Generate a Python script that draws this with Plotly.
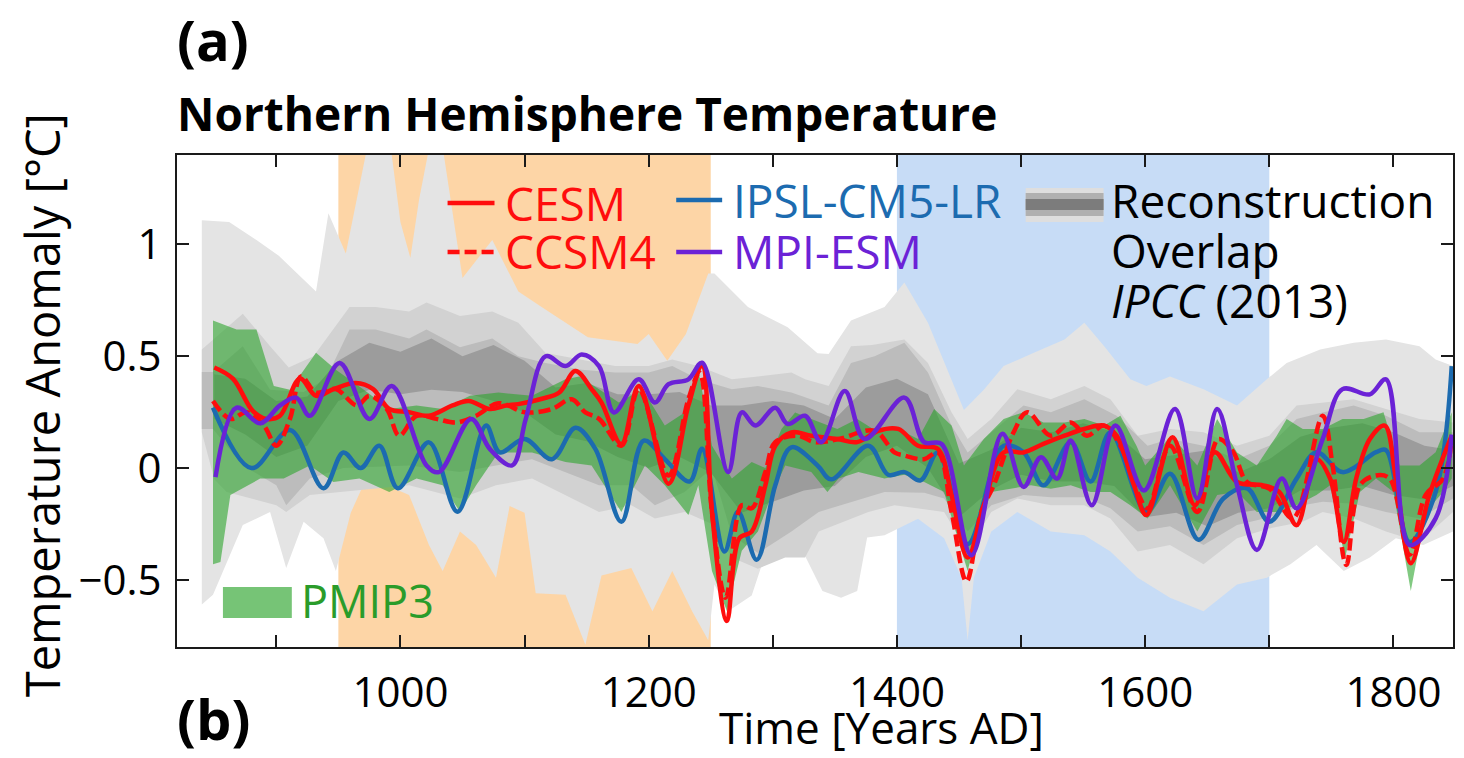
import plotly.graph_objects as go

# ---------------- figure geometry (pixels) ----------------
W, H = 1464, 758
ML, MR, MT, MB = 177, 9, 155, 111
PW, PH = W - ML - MR, H - MT - MB


def xp(px):
    return (px - ML) / PW


def yp(py):
    return (H - MB - py) / PH


FONT = "Open Sans"

# ---------------- climate periods ----------------
mca_period = [950, 1250]
lia_period = [1400, 1700]

# ---------------- model simulations (NH temperature anomaly, degC) ----------------
cesm_year = [850, 865, 881, 892, 903, 919, 932, 946, 964, 978, 991, 1007, 1023, 1042, 1055, 1072, 1085,
             1095, 1114, 1128, 1141, 1154, 1162, 1178, 1192, 1216, 1232, 1243, 1251, 1263, 1273, 1283,
             1294, 1302, 1315, 1331, 1352, 1368, 1385, 1401, 1417, 1433, 1444, 1457, 1470, 1486, 1502,
             1518, 1535, 1551, 1567, 1577, 1591, 1601, 1622, 1640, 1656, 1674, 1695, 1708, 1722, 1738,
             1749, 1760, 1770, 1781, 1793, 1802, 1814, 1829, 1847]
cesm_temp = [0.45, 0.40, 0.256, 0.22, 0.234, 0.40, 0.323, 0.353, 0.38, 0.353, 0.264, 0.25, 0.234, 0.28,
             0.30, 0.264, 0.28, 0.286, 0.31, 0.338, 0.434, 0.353, 0.293, 0.108, 0.367, -0.07, 0.28, 0.456,
             -0.196, -0.684, -0.314, -0.284, -0.077, 0.10, 0.16, 0.145, 0.13, 0.116, 0.167, 0.175, 0.10,
             0.086, -0.12, -0.40, -0.166, 0.07, 0.07, 0.108, 0.145, 0.175, 0.19, 0.145, -0.077, -0.21,
             0.138, -0.166, 0.071, -0.062, -0.077, -0.107, -0.255, 0.04, -0.047, -0.33, -0.047, 0.13,
             0.19, -0.047, -0.425, -0.12, 0.145]

ccsm4_year = [849, 863, 876, 890, 900, 911, 920, 932, 948, 965, 975, 989, 999, 1013, 1029, 1045, 1061,
              1079, 1101, 1122, 1138, 1149, 1160, 1178, 1192, 1216, 1232, 1241, 1251, 1262, 1275, 1283,
              1294, 1302, 1320, 1334, 1353, 1382, 1398, 1406, 1422, 1433, 1444, 1456, 1468, 1478, 1494,
              1505, 1524, 1540, 1553, 1567, 1580, 1594, 1602, 1620, 1642, 1659, 1671, 1682, 1700, 1719,
              1743, 1751, 1762, 1773, 1786, 1797, 1813, 1826, 1840, 1847]
ccsm4_temp = [0.30, 0.22, 0.25, 0.19, 0.10, 0.22, 0.41, 0.338, 0.353, 0.28, 0.323, 0.264, 0.145, 0.234,
              0.22, 0.204, 0.234, 0.29, 0.249, 0.264, 0.308, 0.249, 0.22, 0.10, 0.353, -0.033, 0.308,
              0.427, -0.196, -0.58, -0.166, -0.18, -0.018, 0.116, 0.145, 0.116, 0.13, 0.167, 0.07, 0.056,
              0.04, 0.07, -0.196, -0.507, -0.196, -0.077, 0.16, 0.25, 0.145, 0.204, 0.145, 0.19, 0.10,
              -0.11, -0.18, 0.10, -0.196, 0.13, 0.071, -0.062, -0.092, -0.225, 0.234, 0.012, -0.433,
              -0.077, -0.033, -0.047, -0.388, -0.12, -0.047, 0.13]

ipsl_year = [849, 880, 911, 938, 954, 968, 983, 998, 1023, 1046, 1069, 1080, 1100, 1122, 1141, 1157,
             1178, 1196, 1213, 1233, 1243, 1261, 1272, 1287, 1302, 1315, 1336, 1347, 1377, 1393, 1406,
             1419, 1433, 1457, 1478, 1486, 1502, 1518, 1540, 1556, 1572, 1601, 1620, 1643, 1663, 1682,
             1700, 1722, 1738, 1759, 1786, 1794, 1813, 1834, 1847]
ipsl_temp = [0.27, 0.0, 0.17, -0.09, 0.07, 0.0, 0.10, -0.09, 0.115, -0.195, 0.19, 0.07, 0.13, 0.04, 0.18,
             0.086, -0.24, 0.123, 0.04, -0.06, 0.086, -0.373, -0.195, -0.41, -0.077, 0.093, 0.012, -0.05,
             0.10, -0.03, -0.018, -0.055, 0.07, -0.34, 0.012, 0.10, 0.071, -0.077, 0.115, -0.06, 0.16,
             -0.195, -0.025, -0.32, -0.136, -0.09, -0.24, -0.047, 0.071, -0.018, 0.071, 0.08, -0.33,
             -0.107, 0.456]

mpi_year = [851, 868, 887, 903, 916, 927, 951, 975, 993, 1021, 1031, 1057, 1072, 1090, 1101, 1117, 1133,
            1146, 1160, 1172, 1192, 1205, 1216, 1232, 1243, 1264, 1275, 1286, 1302, 1312, 1326, 1339,
            1358, 1374, 1406, 1422, 1436, 1460, 1485, 1502, 1516, 1529, 1540, 1557, 1576, 1599, 1624,
            1642, 1658, 1674, 1690, 1710, 1722, 1743, 1759, 1781, 1794, 1813, 1834, 1847]
mpi_temp = [-0.04, 0.27, 0.20, 0.28, 0.315, 0.234, 0.47, 0.22, 0.367, 0.012, -0.018, 0.22, 0.086, 0.012,
            0.22, 0.50, 0.456, 0.508, 0.456, 0.249, 0.397, 0.293, 0.375, 0.397, 0.471, -0.018, 0.249,
            0.19, 0.27, 0.197, 0.234, 0.116, 0.345, 0.13, 0.315, 0.116, 0.108, -0.39, 0.153, -0.084,
            0.049, -0.047, 0.123, -0.166, 0.19, -0.10, 0.264, -0.136, 0.264, -0.077, -0.366, -0.047,
            -0.18, 0.13, 0.353, 0.33, 0.397, -0.344, -0.225, 0.15]

# ---------------- PMIP3 ensemble envelope ----------------
pmip_up_year = [849, 868, 884, 898, 911, 932, 948, 970, 991, 1013, 1034, 1056, 1079, 1106, 1133, 1144,
                1160, 1176, 1195, 1213, 1229, 1240, 1251, 1267, 1283, 1294, 1307, 1318, 1331, 1344, 1352,
                1368, 1385, 1401, 1417, 1430, 1444, 1454, 1470, 1486, 1502, 1518, 1535, 1551, 1567, 1580,
                1593, 1600, 1621, 1642, 1658, 1674, 1690, 1706, 1714, 1727, 1743, 1759, 1776, 1792, 1805,
                1821, 1834, 1847]
pmip_up_temp = [0.66, 0.62, 0.62, 0.367, 0.35, 0.516, 0.44, 0.353, 0.264, 0.28, 0.264, 0.323, 0.338,
                0.323, 0.397, 0.41, 0.353, 0.293, 0.353, 0.19, 0.249, 0.44, 0.10, -0.047, 0.027, 0.0,
                0.175, 0.249, 0.22, 0.19, 0.175, 0.22, 0.16, 0.175, 0.13, 0.264, 0.19, 0.012, 0.13, 0.22,
                0.25, 0.204, 0.204, 0.22, 0.19, 0.234, 0.10, 0.012, 0.145, 0.012, 0.22, 0.07, 0.012,
                0.145, 0.22, 0.175, 0.175, 0.22, 0.22, 0.25, 0.012, 0.012, 0.071, 0.25]
pmip_lo_year = [849, 855, 863, 887, 906, 927, 946, 967, 991, 1013, 1034, 1048, 1061, 1079, 1106, 1133,
                1154, 1178, 1197, 1213, 1232, 1240, 1251, 1263, 1275, 1288, 1299, 1310, 1331, 1344, 1353,
                1369, 1390, 1406, 1422, 1438, 1449, 1457, 1465, 1476, 1492, 1508, 1524, 1540, 1556, 1572,
                1588, 1602, 1620, 1642, 1658, 1674, 1690, 1706, 1722, 1738, 1749, 1761, 1773, 1786, 1800,
                1814, 1826, 1840, 1847]
pmip_lo_temp = [-0.43, -0.42, -0.12, -0.047, -0.047, 0.012, -0.062, -0.047, -0.107, -0.047, -0.077,
                -0.196, -0.077, 0.07, 0.07, 0.027, 0.012, -0.196, 0.012, -0.077, -0.21, -0.077, -0.46,
                -0.64, -0.37, -0.284, -0.12, 0.012, -0.018, -0.107, -0.047, -0.018, -0.047, -0.03, -0.062,
                -0.107, -0.314, -0.46, -0.284, -0.107, -0.092, -0.077, -0.092, -0.077, -0.107, -0.107,
                -0.166, -0.225, -0.077, -0.284, -0.12, -0.107, -0.196, -0.196, -0.166, -0.12, -0.077,
                -0.403, -0.107, -0.047, -0.107, -0.55, -0.196, -0.107, -0.047]

# ---------------- reconstruction overlap (IPCC 2013), nested shading levels ----------------
rec1_up_year = [840, 862, 884, 902, 932, 942, 956, 972, 993, 1000, 1008, 1015, 1022, 1035, 1050, 1074,
                1095, 1111, 1151, 1191, 1200, 1215, 1230, 1248, 1253, 1280, 1312, 1336, 1345, 1363, 1390,
                1406, 1425, 1444, 1454, 1470, 1486, 1508, 1535, 1551, 1567, 1588, 1601, 1620, 1647, 1674,
                1698, 1714, 1741, 1768, 1794, 1821, 1834, 1848]
rec1_up_temp = [1.108, 1.10, 1.02, 0.95, 0.79, 1.14, 0.96, 1.40, 1.40, 1.10, 0.94, 1.20, 1.40, 1.40, 0.85,
                1.02, 0.79, 0.73, 0.585, 0.555, 0.60, 0.48, 0.60, 0.87, 0.87, 0.72, 0.63, 0.514, 0.51,
                0.66, 0.72, 0.83, 0.65, 0.397, 0.26, 0.35, 0.456, 0.51, 0.575, 0.65, 0.545, 0.397, 0.367,
                0.41, 0.353, 0.28, 0.397, 0.47, 0.53, 0.56, 0.575, 0.545, 0.486, 0.456]
rec1_lo_year = [840, 849, 873, 895, 908, 922, 938, 948, 960, 970, 990, 1007, 1023, 1034, 1048, 1061, 1077,
                1088, 1100, 1109, 1133, 1149, 1162, 1186, 1203, 1219, 1235, 1248, 1253, 1264, 1283, 1302,
                1315, 1340, 1355, 1368, 1376, 1390, 1398, 1417, 1438, 1452, 1457, 1462, 1476, 1497, 1524,
                1551, 1572, 1594, 1620, 1647, 1674, 1698, 1717, 1738, 1760, 1781, 1802, 1824, 1848]
rec1_lo_temp = [-0.61, -0.566, -0.255, -0.196, -0.447, -0.24, -0.314, -0.46, -0.20, -0.077, -0.08, -0.12,
                -0.344, -0.46, -0.284, -0.344, -0.49, -0.17, -0.20, -0.56, -0.566, -0.79, -0.48, -0.447,
                -0.64, -0.46, -0.64, -0.77, -0.52, -0.64, -0.57, -0.25, -0.27, -0.55, -0.58, -0.55, -0.31,
                -0.30, -0.28, -0.227, -0.314, -0.49, -0.77, -0.49, -0.284, -0.196, -0.284, -0.30, -0.373,
                -0.49, -0.58, -0.64, -0.52, -0.49, -0.43, -0.344, -0.46, -0.40, -0.314, -0.344, -0.284]

rec2_up_year = [840, 873, 895, 910, 930, 959, 980, 1007, 1021, 1048, 1074, 1095, 1117, 1146, 1173, 1200,
                1219, 1240, 1267, 1288, 1315, 1326, 1345, 1363, 1380, 1406, 1425, 1444, 1457, 1476, 1497,
                1524, 1551, 1572, 1594, 1620, 1647, 1674, 1700, 1722, 1743, 1768, 1794, 1821, 1848]
rec2_up_temp = [0.53, 0.69, 0.545, 0.45, 0.50, 0.72, 0.72, 0.70, 0.74, 0.68, 0.70, 0.65, 0.515, 0.486,
                0.456, 0.456, 0.486, 0.456, 0.397, 0.41, 0.427, 0.397, 0.367, 0.545, 0.55, 0.575, 0.47,
                0.25, 0.13, 0.22, 0.353, 0.308, 0.367, 0.308, 0.145, 0.175, 0.16, 0.10, 0.145, 0.28, 0.293,
                0.308, 0.264, 0.22, 0.204]
rec2_lo_year = [840, 850, 860, 900, 908, 927, 954, 1007, 1048, 1077, 1106, 1133, 1160, 1186, 1205, 1229,
                1251, 1267, 1288, 1310, 1326, 1337, 1377, 1398, 1438, 1457, 1476, 1497, 1524, 1551, 1572,
                1594, 1620, 1647, 1674, 1700, 1727, 1743, 1768, 1794, 1821, 1848]
rec2_lo_temp = [0.16, -0.05, -0.107, -0.166, -0.196, -0.12, -0.107, -0.077, -0.136, -0.077, -0.047, -0.12,
                -0.196, -0.166, -0.225, -0.196, -0.25, -0.40, -0.45, -0.40, -0.40, -0.284, -0.196, -0.166,
                -0.196, -0.373, -0.196, -0.136, -0.166, -0.166, -0.225, -0.373, -0.344, -0.43, -0.314,
                -0.27, -0.24, -0.196, -0.225, -0.284, -0.33, -0.196]

rec3_up_year = [840, 849, 873, 895, 922, 940, 959, 980, 1007, 1021, 1048, 1074, 1095, 1117, 1146, 1173,
                1200, 1219, 1240, 1267, 1288, 1315, 1345, 1363, 1382, 1406, 1425, 1444, 1457, 1476, 1502,
                1524, 1551, 1577, 1602, 1620, 1647, 1674, 1700, 1722, 1743, 1768, 1794, 1821, 1848]
rec3_up_temp = [0.43, 0.43, 0.545, 0.35, 0.34, 0.40, 0.62, 0.62, 0.58, 0.62, 0.54, 0.58, 0.50, 0.47,
                0.44, 0.427, 0.427, 0.456, 0.397, 0.353, 0.367, 0.338, 0.28, 0.47, 0.50, 0.56, 0.427, 0.19,
                0.07, 0.16, 0.28, 0.25, 0.308, 0.234, 0.10, 0.13, 0.10, 0.04, 0.10, 0.22, 0.249, 0.28,
                0.234, 0.16, 0.16]
rec3_lo_year = [840, 849, 873, 900, 908, 927, 954, 1007, 1048, 1077, 1106, 1133, 1160, 1186, 1205, 1229,
                1251, 1267, 1288, 1315, 1337, 1390, 1422, 1438, 1457, 1476, 1502, 1524, 1551, 1572, 1594,
                1620, 1647, 1674, 1700, 1727, 1743, 1768, 1794, 1821, 1848]
rec3_lo_temp = [0.175, 0.175, 0.012, -0.077, -0.166, -0.047, 0.0, 0.012, -0.018, 0.012, 0.04, -0.018,
                -0.077, -0.077, -0.166, -0.107, 0.0, -0.30, -0.38, -0.284, -0.196, -0.107, -0.11, -0.136,
                -0.284, -0.166, -0.12, -0.13, -0.13, -0.18, -0.284, -0.26, -0.344, -0.255, -0.22, -0.166,
                -0.15, -0.16, -0.196, -0.225, -0.136]

rec4_year = [850, 875, 900, 925, 950, 975, 1000, 1025, 1050, 1075, 1100, 1125, 1150, 1175, 1200, 1225,
             1250, 1275, 1300, 1325, 1350, 1375, 1400, 1425, 1450, 1475, 1500, 1525, 1550, 1575, 1600,
             1625, 1650, 1675, 1700, 1725, 1750, 1775, 1800, 1825, 1848]
rec4_up_temp = [0.42, 0.40, 0.30, 0.32, 0.48, 0.56, 0.52, 0.58, 0.50, 0.55, 0.48, 0.36, 0.38, 0.33, 0.33,
                0.34, 0.28, 0.28, 0.30, 0.28, 0.22, 0.36, 0.40, 0.33, 0.02, 0.08, 0.18, 0.16, 0.20, 0.16,
                0.04, 0.06, 0.08, -0.02, 0.04, 0.14, 0.18, 0.20, 0.16, 0.10, 0.08]
rec4_lo_temp = [0.22, 0.15, 0.05, 0.10, 0.30, 0.35, 0.33, 0.35, 0.34, 0.30, 0.25, 0.15, 0.12, 0.05, 0.0,
                0.05, -0.02, -0.20, -0.15, -0.10, -0.08, 0.05, 0.10, 0.0, -0.22, -0.10, -0.03, -0.06,
                -0.06, -0.08, -0.22, -0.20, -0.26, -0.20, -0.18, -0.10, -0.10, -0.08, -0.12, -0.14, -0.08]

# ---------------- colours ----------------
RED = "#ff0d0d"
BLUE = "#1c6bb0"
PURPLE = "#6b22d6"
GREEN_TXT = "#2a9c2a"
GREEN_FILL = "rgba(45,165,45,0.6)"
ORANGE = "#fdd5a6"
LIGHTBLUE = "#c7dcf6"
GRAYS = ["#e4e4e4", "#d2d2d2", "#bcbcbc", "#9c9c9c"]

fig = go.Figure()


def band(x_up, y_up, x_lo, y_lo, color):
    fig.add_trace(go.Scatter(
        x=list(x_up) + list(x_lo)[::-1],
        y=list(y_up) + list(y_lo)[::-1],
        fill="toself", fillcolor=color, mode="lines",
        line=dict(width=0, color=color), hoverinfo="skip", showlegend=False))


band(rec1_up_year, rec1_up_temp, rec1_lo_year, rec1_lo_temp, GRAYS[0])
band(rec2_up_year, rec2_up_temp, rec2_lo_year, rec2_lo_temp, GRAYS[1])
band(rec3_up_year, rec3_up_temp, rec3_lo_year, rec3_lo_temp, GRAYS[2])
band(rec4_year, rec4_up_temp, rec4_year, rec4_lo_temp, GRAYS[3])
band(pmip_up_year, pmip_up_temp, pmip_lo_year, pmip_lo_temp, GREEN_FILL)


def curve(x, y, color, dash="solid"):
    fig.add_trace(go.Scatter(
        x=x, y=y, mode="lines",
        line=dict(color=color, width=4.5, shape="spline", smoothing=1.0, dash=dash),
        showlegend=False))


curve(ipsl_year, ipsl_temp, BLUE)
curve(ccsm4_year, ccsm4_temp, RED, dash="12px,5px")
curve(cesm_year, cesm_temp, RED)
curve(mpi_year, mpi_temp, PURPLE)

# ---------------- period shading ----------------
shapes = [
    dict(type="rect", xref="x", yref="paper", x0=mca_period[0], x1=mca_period[1], y0=0, y1=1,
         fillcolor=ORANGE, line=dict(width=0), layer="below"),
    dict(type="rect", xref="x", yref="paper", x0=lia_period[0], x1=lia_period[1], y0=0, y1=1,
         fillcolor=LIGHTBLUE, line=dict(width=0), layer="below"),
]


# ---------------- legend glyphs ----------------
def seg(x0, x1, y, color, dash="solid", width=4.5):
    shapes.append(dict(type="line", xref="paper", yref="paper", x0=xp(x0), x1=xp(x1), y0=yp(y), y1=yp(y),
                       line=dict(color=color, width=width, dash=dash)))


def box(x0, x1, y0, y1, color):
    shapes.append(dict(type="rect", xref="paper", yref="paper", x0=xp(x0), x1=xp(x1), y0=yp(y1), y1=yp(y0),
                       fillcolor=color, line=dict(width=0)))


seg(448, 495, 203, RED)
seg(448, 495, 252, RED, dash="12px,5px")
seg(677, 723, 200, BLUE)
seg(677, 723, 252, PURPLE)
box(1027, 1105, 188, 222, "#dedede")
box(1027, 1105, 193, 216, "#b0b0b0")
box(1027, 1105, 199, 210, "#7c7c7c")
box(223, 292, 587, 618, "rgba(45,165,45,0.65)")


# ---------------- text ----------------
def label(text, x, y, size, color="black", bold=False, xanchor="left", angle=0):
    annots.append(dict(text=f"<b>{text}</b>" if bold else text, xref="paper", yref="paper",
                       x=xp(x), y=yp(y), xanchor=xanchor, yanchor="middle", showarrow=False,
                       textangle=angle, borderpad=0,
                       font=dict(family=FONT, size=size, color=color)))


annots = []
label("(a)", 176, 39, 56, bold=True)
label("Northern Hemisphere Temperature", 176, 113, 46, bold=True)
label("CESM", 505, 203, 46, RED)
label("CCSM4", 505, 251, 46, RED)
label("IPSL-CM5-LR", 733, 200, 46, BLUE)
label("MPI-ESM", 733, 251, 46, PURPLE)
label("Reconstruction", 1111, 200, 46)
label("Overlap", 1111, 250, 46)
label("<i>IPCC</i> (2013)", 1111, 300, 46)
label("PMIP3", 300, 600, 45, GREEN_TXT)
label("(b)", 176, 718, 56, bold=True)
label("Time [Years AD]", 883, 727, 44, xanchor="center")
label("Temperature Anomaly [°C]", 42, 405, 47, xanchor="center", angle=-90)

x_ticks = [900, 1000, 1100, 1200, 1300, 1400, 1500, 1600, 1700, 1800]
x_tick_text = ["", "1000", "", "1200", "", "1400", "", "1600", "", "1800"]
y_ticks = [-0.5, 0, 0.5, 1]
y_tick_text = ["\u22120.5", "0", "0.5", "1"]

axis_common = dict(showgrid=False, zeroline=False, showline=True, linecolor="#1a1a1a", linewidth=2,
                   mirror="ticks", ticks="inside", ticklen=12, tickwidth=2, tickcolor="#1a1a1a",
                   tickfont=dict(family=FONT, size=42, color="black"))

fig.update_layout(
    width=W, height=H,
    margin=dict(l=ML, r=MR, t=MT, b=MB, pad=0),
    paper_bgcolor="white", plot_bgcolor="white",
    xaxis=dict(range=[820, 1848], tickmode="array", tickvals=x_ticks, ticktext=x_tick_text,
               ticklabelstandoff=8, **axis_common),
    yaxis=dict(range=[-0.8, 1.4], tickmode="array", tickvals=y_ticks, ticktext=y_tick_text,
               ticklabelstandoff=5, **axis_common),
    shapes=shapes,
    annotations=annots,
    showlegend=False,
)

fig.write_html("out.html")
